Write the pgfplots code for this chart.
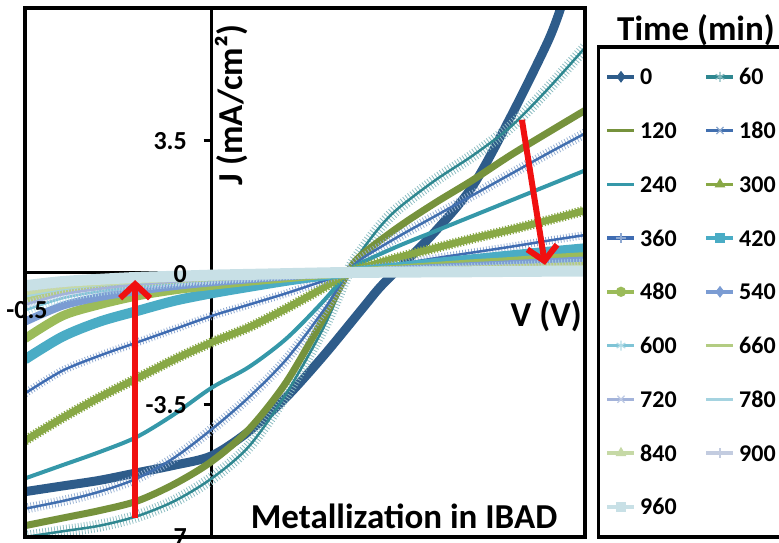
\documentclass[border=0pt]{standalone}
\usepackage{fontspec}
\setmainfont{Carlito}
\usepackage{pgfplots}
\pgfplotsset{compat=1.18}
\usetikzlibrary{arrows.meta}
\definecolor{c0}{HTML}{2E5C8A}
\definecolor{c60}{HTML}{2E8790}
\definecolor{c120}{HTML}{76923C}
\definecolor{c180}{HTML}{416FAF}
\definecolor{c240}{HTML}{3598A9}
\definecolor{c300}{HTML}{88A845}
\definecolor{c360}{HTML}{3F6CB2}
\definecolor{c420}{HTML}{4AACC5}
\definecolor{c480}{HTML}{9BBB59}
\definecolor{c540}{HTML}{7B9CD3}
\definecolor{c600}{HTML}{7FC4D6}
\definecolor{c660}{HTML}{B3CC82}
\definecolor{c720}{HTML}{A3B3DA}
\definecolor{c780}{HTML}{A5D3E0}
\definecolor{c840}{HTML}{C6D9A6}
\definecolor{c900}{HTML}{C3CCE0}
\definecolor{c960}{HTML}{C8E0E6}
\definecolor{arr}{HTML}{F01010}
\begin{document}
\begin{tikzpicture}[font=\bfseries]
\path[use as bounding box] (0,0) rectangle (779pt,543pt);
\begin{axis}[
  at={(25pt,6pt)}, anchor=south west,
  scale only axis, width=560pt, height=529pt,
  xmin=-0.5, xmax=1, ymin=-7, ymax=7,
  axis lines=middle,
  axis line style={line width=3.5pt,-},
  hide obscured x ticks=false, hide obscured y ticks=false,
  xtick={-0.5}, xticklabels={},
  ytick={-7,-3.5,0,3.5}, yticklabels={},
  tick style={line width=3pt, black},
  tick align=outside, major tick length=8pt,
  xtick style={draw=none},
  legend columns=2,
  legend cell align=left,
  legend image code/.code={\draw[#1] (0pt,0pt) -- (27pt,0pt); \draw[#1, line width=1.2pt] plot coordinates {(13.5pt,0pt)};},
  legend style={
    at={(1.0214,0.930)}, anchor=north west,
    draw=black, line width=3.5pt, fill=white,
    font=\bfseries\fontsize{24}{24}\selectfont,
    inner xsep=7pt, inner ysep=20pt,
    row sep=33.75pt,
    nodes={inner sep=2pt, text height=16pt, text depth=0pt},
    /tikz/every odd column/.append style={column sep=2pt},
    /tikz/every even column/.append style={column sep=26pt},
  },
]
% 0
\addplot[forget plot, c0, line width=9pt, smooth] coordinates {(-0.5,-5.8) (-0.4,-5.65) (-0.3,-5.5) (-0.2,-5.3) (-0.1,-5.1) (0,-4.85) (0.1,-4.2) (0.2,-3.3) (0.3,-2.2) (0.4,-1.0) (0.45,-0.4) (0.5,0.1) (0.6,1.1) (0.7,2.3) (0.8,4.1) (0.9,6.1) (0.935,7.0)};
% 60
\addplot[forget plot, c60, line width=2.5pt, smooth, preaction={draw, c60!55, line width=12pt, dash pattern=on 0.8pt off 2.2pt}] coordinates {(-0.5,-7.0) (-0.4,-6.85) (-0.3,-6.7) (-0.2,-6.45) (-0.1,-6.05) (0,-5.45) (0.1,-4.6) (0.2,-3.2) (0.3,-1.45) (0.365,0) (0.4,0.55) (0.45,1.2) (0.5,1.7) (0.6,2.45) (0.7,3.1) (0.8,3.85) (0.9,4.85) (1.0,5.95)};
% 120
\addplot[forget plot, c120, line width=7pt, smooth] coordinates {(-0.5,-6.7) (-0.4,-6.5) (-0.3,-6.3) (-0.2,-6.05) (-0.1,-5.6) (0,-5.0) (0.1,-4.15) (0.2,-2.9) (0.3,-1.2) (0.365,0) (0.4,0.45) (0.5,1.2) (0.6,1.85) (0.7,2.45) (0.8,3.1) (0.9,3.7) (1.0,4.29)};
% 180
\addplot[forget plot, c180, line width=2.5pt, smooth, preaction={draw, c180!55, line width=10pt, dash pattern=on 0.8pt off 2.2pt}] coordinates {(-0.5,-6.25) (-0.4,-6.05) (-0.3,-5.8) (-0.2,-5.45) (-0.1,-4.9) (0,-4.15) (0.1,-3.3) (0.2,-2.3) (0.3,-1.0) (0.365,0) (0.4,0.35) (0.5,0.95) (0.6,1.5) (0.7,2.05) (0.8,2.6) (0.9,3.15) (1.0,3.68)};
% 240
\addplot[forget plot, c240, line width=4pt, smooth] coordinates {(-0.5,-5.45) (-0.4,-5.1) (-0.3,-4.75) (-0.2,-4.35) (-0.1,-3.75) (0,-3.05) (0.1,-2.5) (0.2,-1.75) (0.3,-0.75) (0.365,0) (0.4,0.25) (0.5,0.7) (0.6,1.1) (0.7,1.5) (0.8,1.9) (0.9,2.3) (1.0,2.7)};
% 300
\addplot[forget plot, c300, line width=7pt, smooth, preaction={draw, c300, line width=10pt, dash pattern=on 1.2pt off 1.8pt}] coordinates {(-0.5,-4.45) (-0.4,-3.85) (-0.3,-3.3) (-0.2,-2.8) (-0.1,-2.3) (0,-1.85) (0.1,-1.45) (0.2,-0.95) (0.3,-0.4) (0.365,0) (0.4,0.12) (0.5,0.4) (0.6,0.65) (0.7,0.9) (0.8,1.13) (0.9,1.38) (1.0,1.64)};
% 360
\addplot[forget plot, c360, line width=2.5pt, smooth, preaction={draw, c360!60, line width=8pt, dash pattern=on 0.8pt off 2.2pt}] coordinates {(-0.5,-3.2) (-0.4,-2.6) (-0.3,-2.2) (-0.2,-1.85) (-0.1,-1.5) (0,-1.15) (0.1,-0.85) (0.2,-0.55) (0.3,-0.22) (0.365,0) (0.4,0.07) (0.5,0.22) (0.6,0.38) (0.7,0.53) (0.8,0.68) (0.9,0.84) (1.0,0.99)};
% 420
\addplot[forget plot, c420, line width=10pt, smooth] coordinates {(-0.5,-2.3) (-0.4,-1.7) (-0.3,-1.3) (-0.2,-1.02) (-0.1,-0.75) (0,-0.55) (0.1,-0.38) (0.2,-0.22) (0.3,-0.08) (0.365,0) (0.4,0.04) (0.5,0.14) (0.6,0.25) (0.7,0.35) (0.8,0.45) (0.9,0.55) (1.0,0.64)};
% 480
\addplot[forget plot, c480, line width=9pt, smooth] coordinates {(-0.5,-1.75) (-0.4,-1.15) (-0.3,-0.85) (-0.2,-0.62) (-0.1,-0.46) (0,-0.34) (0.1,-0.23) (0.2,-0.14) (0.3,-0.05) (0.365,0) (0.4,0.02) (0.5,0.09) (0.6,0.16) (0.7,0.23) (0.8,0.29) (0.9,0.36) (1.0,0.42)};
% 540
\addplot[forget plot, c540, line width=8pt, smooth] coordinates {(-0.5,-1.3) (-0.4,-0.88) (-0.3,-0.65) (-0.2,-0.49) (-0.1,-0.36) (0,-0.26) (0.1,-0.18) (0.2,-0.10) (0.3,-0.04) (0.365,0) (0.5,0.07) (0.6,0.12) (0.7,0.17) (0.8,0.22) (0.9,0.27) (1.0,0.32)};
% 600
\addplot[forget plot, c600, line width=2.5pt, smooth, preaction={draw, c600!60, line width=9pt, dash pattern=on 0.8pt off 2.2pt}] coordinates {(-0.5,-1.0) (-0.4,-0.68) (-0.3,-0.5) (-0.2,-0.38) (-0.1,-0.28) (0,-0.2) (0.1,-0.14) (0.2,-0.08) (0.3,-0.03) (0.365,0) (0.5,0.055) (0.6,0.094) (0.7,0.13) (0.8,0.17) (0.9,0.21) (1.0,0.25)};
% 660
\addplot[forget plot, c660, line width=6pt, smooth] coordinates {(-0.5,-0.75) (-0.4,-0.51) (-0.3,-0.375) (-0.2,-0.285) (-0.1,-0.21) (0,-0.15) (0.1,-0.105) (0.2,-0.06) (0.3,-0.02) (0.365,0) (0.5,0.044) (0.6,0.075) (0.7,0.106) (0.8,0.1375) (0.9,0.169) (1.0,0.2)};
% 720
\addplot[forget plot, c720, line width=2.5pt, smooth, preaction={draw, c720!70, line width=9pt, dash pattern=on 0.8pt off 2.2pt}] coordinates {(-0.5,-0.85) (-0.4,-0.58) (-0.3,-0.43) (-0.2,-0.32) (-0.1,-0.24) (0,-0.17) (0.1,-0.12) (0.2,-0.07) (0.3,-0.03) (0.365,0) (0.5,0.035) (0.6,0.06) (0.7,0.085) (0.8,0.11) (0.9,0.135) (1.0,0.16)};
% 780
\addplot[forget plot, c780, line width=5pt, smooth] coordinates {(-0.5,-0.6) (-0.4,-0.41) (-0.3,-0.3) (-0.2,-0.23) (-0.1,-0.17) (0,-0.12) (0.1,-0.08) (0.2,-0.05) (0.3,-0.02) (0.365,0) (0.5,0.026) (0.6,0.045) (0.7,0.064) (0.8,0.083) (0.9,0.10) (1.0,0.12)};
% 840
\addplot[forget plot, c840, line width=8pt, smooth] coordinates {(-0.5,-0.5) (-0.4,-0.34) (-0.3,-0.25) (-0.2,-0.19) (-0.1,-0.14) (0,-0.1) (0.1,-0.07) (0.2,-0.04) (0.3,-0.015) (0.365,0) (0.5,0.02) (0.6,0.034) (0.7,0.048) (0.8,0.062) (0.9,0.076) (1.0,0.09)};
% 900
\addplot[forget plot, c900, line width=2.5pt, smooth, preaction={draw, c900, line width=8pt, dash pattern=on 0.8pt off 2.2pt}] coordinates {(-0.5,-0.42) (-0.4,-0.29) (-0.3,-0.21) (-0.2,-0.16) (-0.1,-0.12) (0,-0.085) (0.1,-0.06) (0.2,-0.035) (0.3,-0.013) (0.365,0) (0.5,0.013) (0.6,0.022) (0.7,0.032) (0.8,0.041) (0.9,0.051) (1.0,0.06)};
% 960
\addplot[forget plot, c960, line width=11pt, smooth] coordinates {(-0.5,-0.35) (-0.4,-0.24) (-0.3,-0.18) (-0.2,-0.13) (-0.1,-0.1) (0,-0.07) (0.1,-0.05) (0.2,-0.03) (0.3,-0.01) (0.365,0) (0.5,0.01) (0.6,0.015) (0.7,0.02) (0.8,0.028) (0.9,0.034) (1.0,0.04)};
% arrows
\draw[arr, line width=6pt, -{Straight Barb[length=14pt,width=30pt]}] (axis cs:-0.205,-6.5) -- (axis cs:-0.205,-0.2);
\draw[arr, line width=6pt, -{Straight Barb[length=14pt,width=30pt]}] (axis cs:0.831,4.04) -- (axis cs:0.893,0.2);
% legend
\addlegendimage{c0, line width=3.5pt, mark=diamond*, mark size=5pt}\addlegendentry{0}
\addlegendimage{c60, line width=3.5pt, mark=asterisk, mark size=5pt, mark options={c60!60}}\addlegendentry{60}
\addlegendimage{c120, line width=3.5pt}\addlegendentry{120}
\addlegendimage{c180, line width=3.5pt, mark=x, mark size=5pt, mark options={c180!60}}\addlegendentry{180}
\addlegendimage{c240, line width=3.5pt}\addlegendentry{240}
\addlegendimage{c300, line width=3.5pt, mark=triangle*, mark size=5pt}\addlegendentry{300}
\addlegendimage{c360, line width=3.5pt, mark=+, mark size=5pt, mark options={c360!60}}\addlegendentry{360}
\addlegendimage{c420, line width=3.5pt, mark=square*, mark size=4.5pt}\addlegendentry{420}
\addlegendimage{c480, line width=3.5pt, mark=*, mark size=4.5pt}\addlegendentry{480}
\addlegendimage{c540, line width=3.5pt, mark=diamond*, mark size=5pt}\addlegendentry{540}
\addlegendimage{c600, line width=3.5pt, mark=asterisk, mark size=5pt, mark options={c600!60}}\addlegendentry{600}
\addlegendimage{c660, line width=3.5pt}\addlegendentry{660}
\addlegendimage{c720, line width=3.5pt, mark=x, mark size=5pt, mark options={c720!70}}\addlegendentry{720}
\addlegendimage{c780, line width=3.5pt}\addlegendentry{780}
\addlegendimage{c840, line width=3.5pt, mark=triangle*, mark size=5pt}\addlegendentry{840}
\addlegendimage{c900, line width=3.5pt, mark=+, mark size=5pt}\addlegendentry{900}
\addlegendimage{c960, line width=3.5pt, mark=square*, mark size=4.5pt}\addlegendentry{960}
\end{axis}
\draw[line width=3.5pt] (25pt,6pt) rectangle (585pt,535pt);
\begin{scope}[every node/.style={font=\bfseries\fontsize{26}{26}\selectfont, inner sep=0pt}]
\node[anchor=east] at (187pt,402pt) {3.5};
\node[anchor=east] at (187pt,269pt) {0};
\node[anchor=east] at (187pt,138pt) {-3.5};
\node[anchor=east] at (187pt,6pt) {-7};
\node at (27pt,233pt) {-0.5};
\end{scope}
\node[rotate=90, font=\bfseries\fontsize{35}{35}\selectfont] at (232pt,438pt) {J (mA/cm²)};
\node[anchor=east, inner sep=0pt, font=\bfseries\fontsize{35}{35}\selectfont] at (582pt,227pt) {V (V)};
\node[font=\bfseries\fontsize{35}{35}\selectfont] at (404pt,27pt) {Metallization in IBAD};
\node[font=\bfseries\fontsize{35}{35}\selectfont] at (696pt,513pt) {Time (min)};
\end{tikzpicture}
\end{document}
